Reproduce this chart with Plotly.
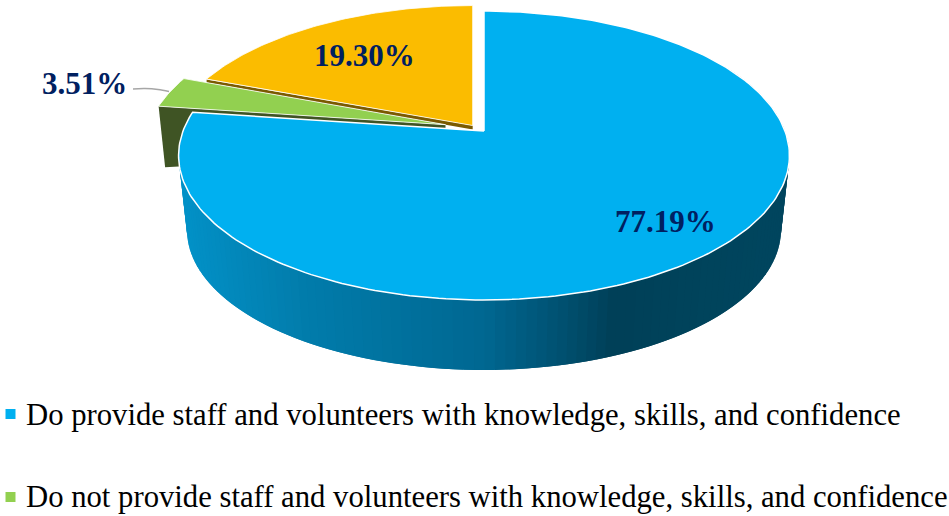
import numpy as np
import plotly.graph_objects as go

# data
values = [77.19, 3.51, 19.30]
legend_names = [
    "Do provide staff and volunteers with knowledge, skills, and confidence",
    "Do not provide staff and volunteers with knowledge, skills, and confidence",
]
top_colors = ["#00B0F0", "#92D050", "#FBBC00"]
cut_colors = ["#00506E", "#3F5424", "#7A5A00"]
label_color = "#002060"

# drawing geometry (3D-look perspective pie)
K = 0.1696
R, S = 301.0, 140.3
R2, S2 = 292.7, 136.0
APEX = [(484.0, 131.0), (450.0, 125.0), (472.7, 125.5)]
BOTTOM_APEX = (484.0, 206.2)


def project(theta_deg, apex, r=R, s=S):
    t = np.radians(np.asarray(theta_deg, dtype=float))
    a, b = np.sin(t), -np.cos(t)
    w = 1 - K * b
    return apex[0] + r * a / w, apex[1] + s * b / w


fracs = np.array(values) / sum(values)
edges = np.concatenate([[0], np.cumsum(fracs) * 360])

fig = go.Figure()


def poly(xs, ys, fill, line=None, lw=0):
    fig.add_trace(go.Scatter(
        x=list(xs), y=list(ys), mode="lines", fill="toself", fillcolor=fill,
        line=dict(color=line or fill, width=lw), hoverinfo="skip", showlegend=False))


# yellow cut face strip + top
tx, ty = project([edges[2]], APEX[2])
ax, ay = APEX[2]
poly([tx[0], ax, ax, tx[0]], [ty[0] + 0.5, ay, ay + 4.0, ty[0] + 3.5], cut_colors[2])
th = np.linspace(edges[2], edges[3], 80)
x, y = project(th, APEX[2])
poly(np.r_[ax, x, ax], np.r_[ay, y, ay], top_colors[2], "white", 0.8)

# green cut face + top
gx, gy = project([edges[1], edges[2]], APEX[1])
ax, ay = APEX[1]
poly([gx[0], ax - 4.5, ax - 4.5, 300, gx[0] + 6.5], [gy[0], ay - 0.3, ay + 3.5, 160, gy[0] + 61],
     cut_colors[1])
th = np.linspace(edges[1], edges[2], 20)
x, y = project(th, APEX[1])
poly(np.r_[ax - 4.5, x, ax - 4.5], np.r_[ay - 0.3, y, ay - 0.3], top_colors[1], "white", 0.8)

# blue outer side: shaded strips (each overlaps the next so no seams show)
xp = [178, 300, 483, 560, 615, 700, 790]
rp = [2, 2, 0, 0, 0, 0, 0]
gp = [146, 125, 104, 82, 64, 68, 70]
bp = [200, 172, 146, 114, 88, 92, 95]
th = np.linspace(60, edges[1], 130)
px, py = project(th, APEX[0])
qx, qy = project(th, BOTTOM_APEX, R2, S2)
for i in range(len(th) - 2):
    xm = (px[i] + px[i + 1]) / 2
    col = "rgb(%d,%d,%d)" % (np.interp(xm, xp, rp), np.interp(xm, xp, gp), np.interp(xm, xp, bp))
    poly([px[i], px[i + 1], px[i + 2], qx[i + 2], qx[i + 1], qx[i]],
         [py[i], py[i + 1], py[i + 2], qy[i + 2], qy[i + 1], qy[i]], col)

# blue top
th = np.linspace(edges[0], edges[1], 240)
x, y = project(th, APEX[0])
ax, ay = APEX[0]
poly(np.r_[ax, x, ax], np.r_[ay, y, ay], top_colors[0], "white", 1.5)

# leader line for the small slice
fig.add_trace(go.Scatter(x=[133, 145, 158, 169], y=[89, 88.6, 89.5, 91.5], mode="lines",
                         line=dict(color="#A6A6A6", width=1.5, shape="spline"),
                         hoverinfo="skip", showlegend=False))

# legend squares
fig.add_trace(go.Scatter(x=[10.5, 10.5], y=[414, 497], mode="markers",
                         marker=dict(symbol="square", size=10, color=top_colors[:2]),
                         hoverinfo="skip", showlegend=False))

label_pos = [(665, 221), (84, 83), (364, 55)]
for v, (lx, ly) in zip(values, label_pos):
    fig.add_annotation(x=lx, y=ly, text="<b>%.2f%%</b>" % v, showarrow=False,
                       font=dict(family="Liberation Serif", size=31, color=label_color),
                       xanchor="center", yanchor="middle")

for name, ly in zip(legend_names, [415, 497]):
    fig.add_annotation(x=26, y=ly, text=name, showarrow=False,
                       font=dict(family="Liberation Serif", size=30.7, color="black"),
                       xanchor="left", yanchor="middle", xshift=-2)

fig.update_layout(
    width=949, height=516, margin=dict(l=0, r=0, t=0, b=0),
    paper_bgcolor="white", plot_bgcolor="white", showlegend=False,
    xaxis=dict(range=[0, 949], visible=False, fixedrange=True),
    yaxis=dict(range=[516, 0], visible=False, fixedrange=True),
)
fig.write_html("out.html", config={"displayModeBar": False},
               post_script="document.body.style.margin='0';document.body.style.overflow='hidden';")
